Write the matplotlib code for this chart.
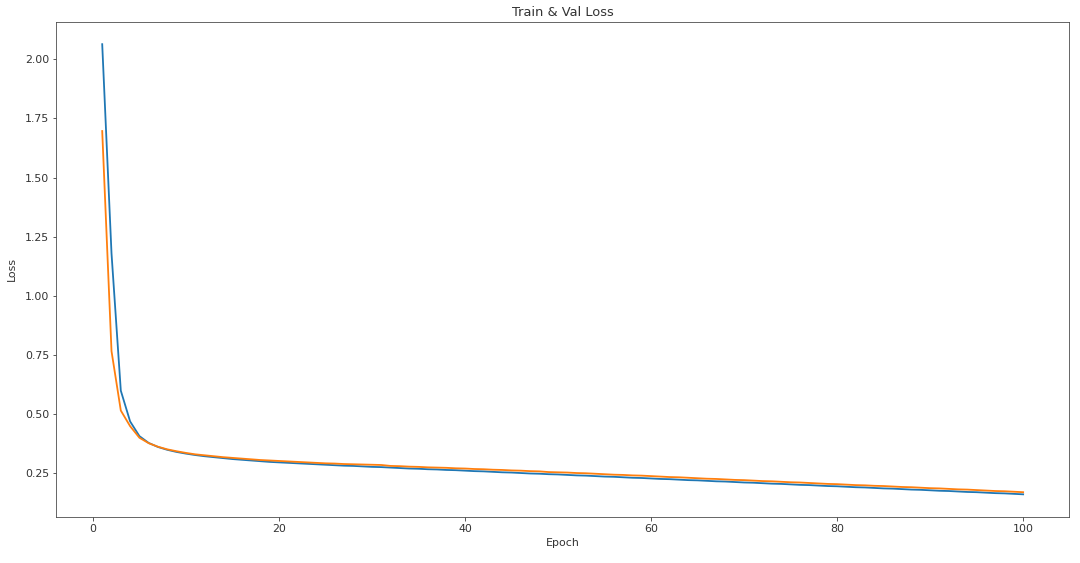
import matplotlib
matplotlib.use("Agg")
import matplotlib.pyplot as plt

# ---- data ----
epochs = list(range(1, 101))

train_loss = [
    2.064, 1.180, 0.600, 0.470, 0.408, 0.379, 0.362, 0.350, 0.341, 0.334,
    0.328, 0.323, 0.319, 0.315, 0.311, 0.308, 0.305, 0.302, 0.299, 0.297,
    0.295, 0.293, 0.291, 0.289, 0.287, 0.285, 0.283, 0.282, 0.280, 0.278,
    0.277, 0.275, 0.273, 0.271, 0.270, 0.268, 0.267, 0.265, 0.264, 0.262,
    0.260, 0.259, 0.257, 0.255, 0.254, 0.252, 0.250, 0.249, 0.247, 0.246,
    0.244, 0.242, 0.241, 0.239, 0.237, 0.236, 0.234, 0.232, 0.231, 0.229,
    0.227, 0.226, 0.224, 0.222, 0.221, 0.219, 0.217, 0.216, 0.214, 0.212,
    0.211, 0.209, 0.207, 0.206, 0.204, 0.202, 0.201, 0.199, 0.197, 0.196,
    0.194, 0.192, 0.191, 0.189, 0.187, 0.186, 0.184, 0.182, 0.181, 0.179,
    0.177, 0.176, 0.174, 0.172, 0.171, 0.169, 0.167, 0.166, 0.164, 0.162,
]

val_loss = [
    1.697, 0.767, 0.516, 0.450, 0.401, 0.378, 0.363, 0.352, 0.344, 0.337,
    0.331, 0.327, 0.323, 0.319, 0.316, 0.313, 0.310, 0.307, 0.305, 0.303,
    0.301, 0.299, 0.297, 0.295, 0.293, 0.292, 0.290, 0.289, 0.288, 0.287,
    0.286, 0.282, 0.281, 0.279, 0.278, 0.276, 0.275, 0.274, 0.272, 0.271,
    0.269, 0.268, 0.266, 0.265, 0.263, 0.262, 0.260, 0.259, 0.256, 0.255,
    0.254, 0.252, 0.251, 0.249, 0.247, 0.245, 0.244, 0.242, 0.241, 0.239,
    0.237, 0.235, 0.234, 0.232, 0.230, 0.228, 0.227, 0.225, 0.223, 0.222,
    0.220, 0.218, 0.217, 0.215, 0.213, 0.212, 0.210, 0.208, 0.206, 0.205,
    0.203, 0.201, 0.200, 0.198, 0.197, 0.195, 0.193, 0.192, 0.190, 0.188,
    0.187, 0.185, 0.183, 0.182, 0.180, 0.178, 0.176, 0.175, 0.173, 0.171,
]

# ---- plot ----
plt.rcParams['font.size'] = 11
plt.rcParams['text.color'] = '#333333'
plt.rcParams['axes.labelcolor'] = '#333333'
plt.rcParams['xtick.color'] = '#333333'
plt.rcParams['ytick.color'] = '#333333'
plt.rcParams['axes.edgecolor'] = '#444444'

fig = plt.figure(figsize=(15, 563 / 72), dpi=72)
ax = fig.add_axes([0.052, 0.082, 0.938, 0.8795])

ax.plot(epochs, train_loss, color="tab:blue", lw=1.8, label="Train")
ax.plot(epochs, val_loss, color="tab:orange", lw=1.8, label="Val")

ax.set_title("Train & Val Loss", fontsize=13)
ax.set_xlabel("Epoch")
ax.set_ylabel("Loss", labelpad=8)

fig.savefig("out.png", dpi=72)
